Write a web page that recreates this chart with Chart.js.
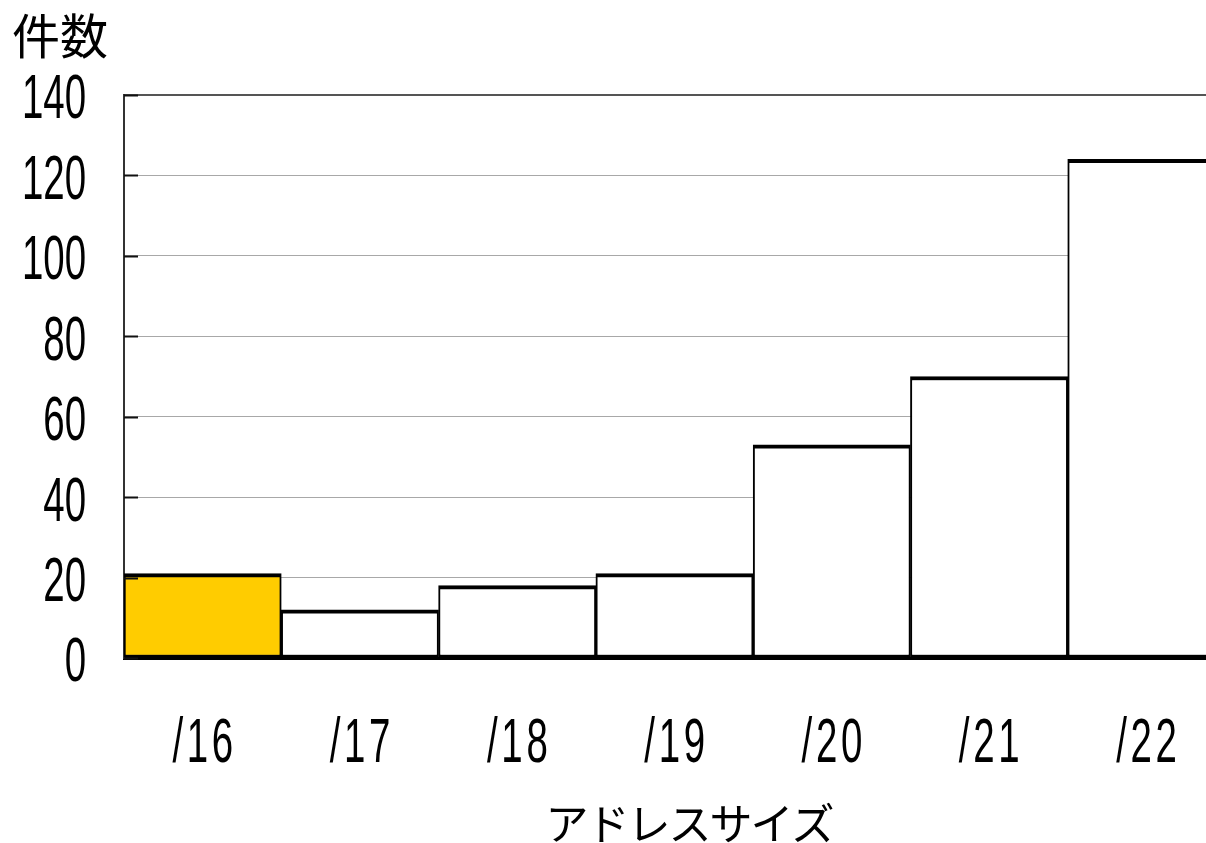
<!DOCTYPE html>
<html lang="ja">
<head>
<meta charset="utf-8">
<title>アドレスサイズ別件数</title>
<script src="https://cdn.jsdelivr.net/npm/chart.js@4/dist/chart.umd.min.js"></script>
<style>
  html, body { margin: 0; padding: 0; background: #fff; overflow: hidden; }
  #wrap { width: 1230px; height: 843px; }
</style>
</head>
<body>
<div id="wrap"><canvas id="chart" width="1230" height="843"></canvas></div>
<script>
// Address sizes (prefix lengths) and the number of allocations of each
const categories = ['/16', '/17', '/18', '/19', '/20', '/21', '/22'];
const counts = [21, 12, 18, 21, 53, 70, 124];
const barColors = ['#FFCC00', '#FFFFFF', '#FFFFFF', '#FFFFFF', '#FFFFFF', '#FFFFFF', '#FFFFFF'];
const yMin = 0, yMax = 140, yStep = 20;
const yTitle = '件数';
const xTitle = 'アドレスサイズ';

const DIGIT_FONT = '63px "Liberation Sans", Arial, sans-serif';
const CJK_FONT = '"Noto Sans CJK JP", sans-serif';
const SQUEEZE = 0.61;   // narrow, tall numerals

// Draws condensed tick labels, inner tick marks and axis titles
const axisText = {
  id: 'axisText',
  afterDatasetsDraw(chart) {
    const { ctx, chartArea, scales } = chart;
    const y = scales.y, x = scales.x;
    ctx.save();
    // inner tick marks on the value axis, over the bars
    ctx.strokeStyle = '#111';
    ctx.lineWidth = 2;
    y.ticks.forEach((t, i) => {
      const py = Math.round(y.getPixelForTick(i)) + 0.5;
      ctx.beginPath();
      ctx.moveTo(chartArea.left, py);
      ctx.lineTo(chartArea.left + 14, py);
      ctx.stroke();
    });
    ctx.fillStyle = '#000';
    ctx.font = DIGIT_FONT;
    ctx.textBaseline = 'middle';
    // value labels
    y.ticks.forEach((t, i) => {
      const py = y.getPixelForTick(i);
      ctx.save();
      ctx.translate(86, py + 6);
      ctx.scale(SQUEEZE, 1);
      ctx.textAlign = 'right';
      ctx.fillText(String(t.value), 0, 0);
      ctx.restore();
    });
    // category labels: slash set a little apart from the digits
    categories.forEach((c, i) => {
      const px = x.getPixelForTick(i);
      ctx.save();
      ctx.translate(px + 2, 745);
      ctx.scale(SQUEEZE, 1);
      ctx.textAlign = 'center';
      ctx.letterSpacing = '6px';
      ctx.fillText(c, 0, 0);
      ctx.restore();
    });
    // axis titles
    ctx.textAlign = 'left';
    ctx.font = '48px ' + CJK_FONT;
    ctx.fillText(yTitle, 12, 36);
    ctx.textAlign = 'center';
    ctx.font = '43px ' + CJK_FONT;
    ctx.letterSpacing = '-2px';
    ctx.fillText(xTitle, 689, 824);
    ctx.restore();
  }
};

new Chart(document.getElementById('chart'), {
  type: 'bar',
  data: {
    labels: categories,
    datasets: [{
      data: counts,
      backgroundColor: barColors,
      borderColor: '#000',
      borderWidth: { top: 4, bottom: 3, left: 2, right: 2 },
      borderSkipped: false,
      barPercentage: 1.0,
      categoryPercentage: 1.0
    }]
  },
  options: {
    responsive: false,
    devicePixelRatio: 1,
    animation: false,
    layout: { padding: { left: 124, top: 95, right: 5, bottom: 185 } },
    plugins: { legend: { display: false }, tooltip: { enabled: false } },
    scales: {
      x: {
        ticks: { display: false },
        grid: { display: false, drawTicks: false },
        border: { display: true, color: '#000', width: 3 }
      },
      y: {
        min: yMin,
        max: yMax,
        ticks: { display: false, stepSize: yStep },
        grid: {
          drawTicks: false,
          color: (c) => c.tick && c.tick.value === yMax ? '#555' : '#a8a8a8',
          lineWidth: (c) => c.tick && c.tick.value === yMax ? 2 : 1
        },
        border: { display: true, color: '#333', width: 2 }
      }
    }
  },
  plugins: [axisText]
});
</script>
</body>
</html>
